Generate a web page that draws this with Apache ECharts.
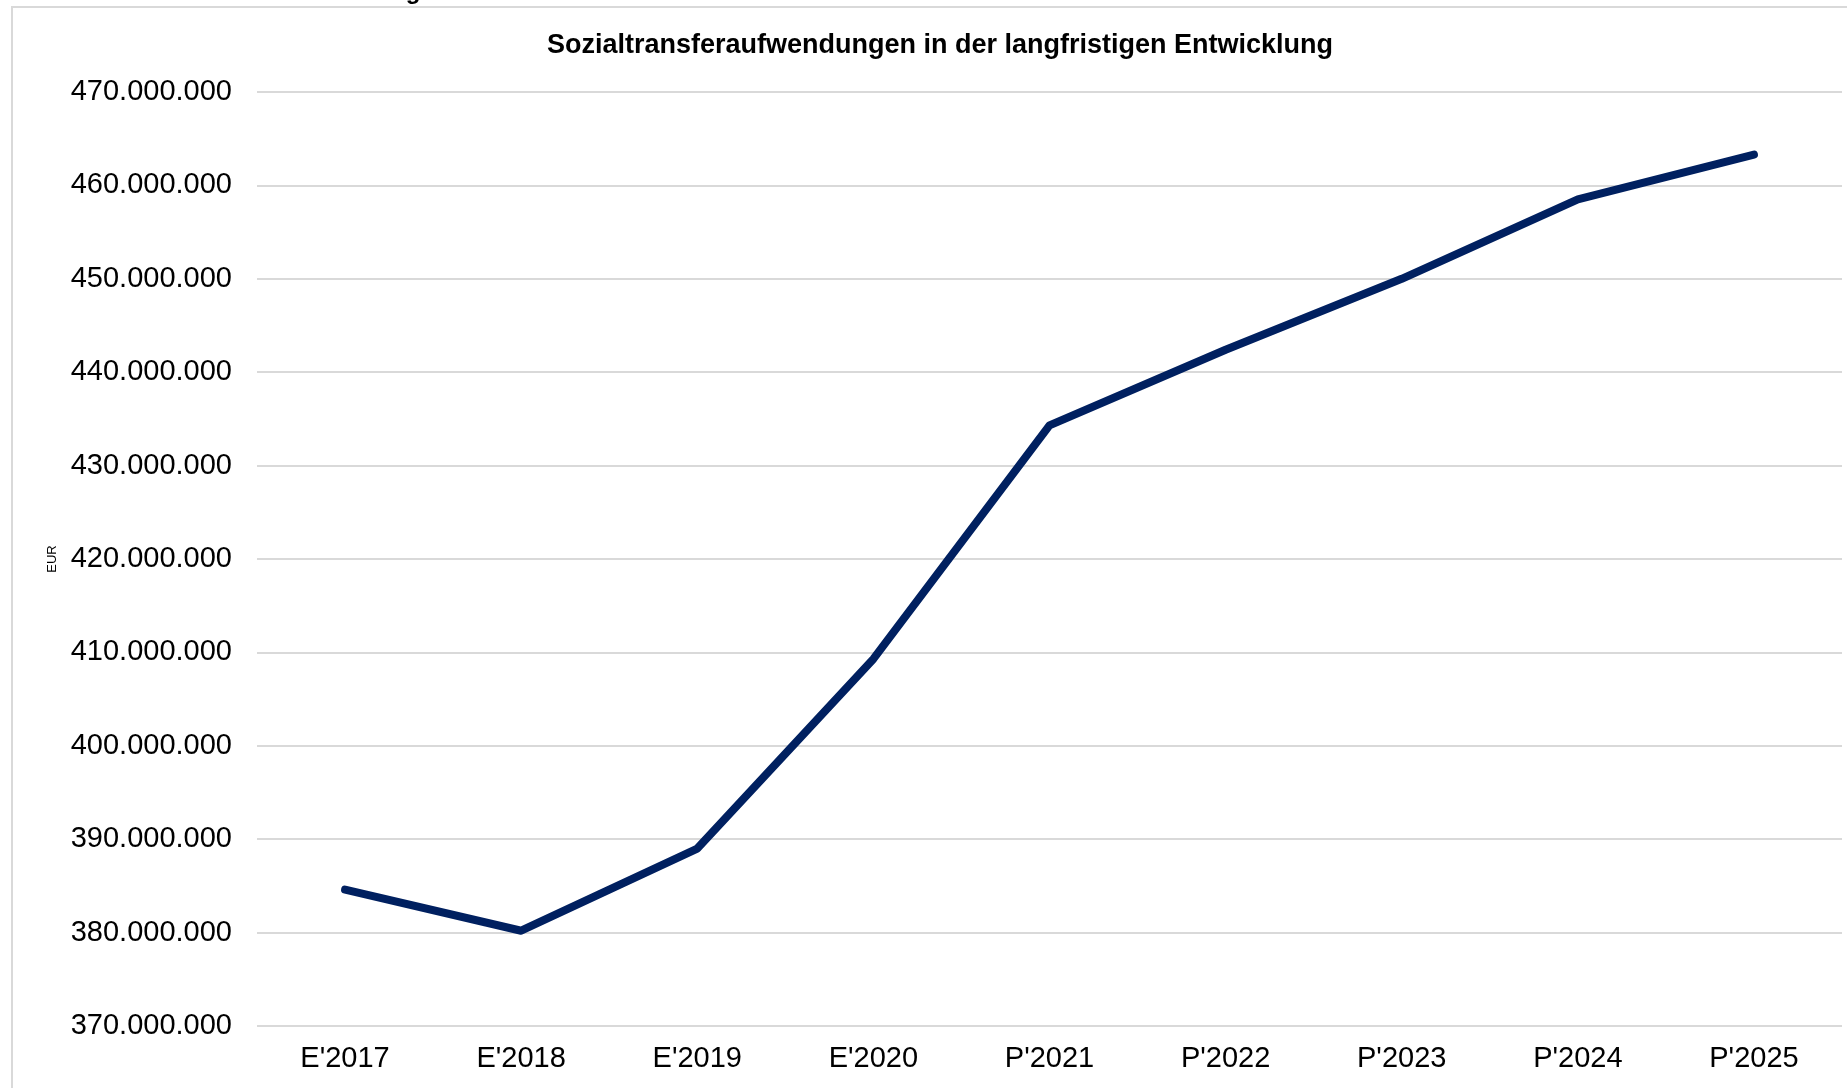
<!DOCTYPE html>
<html>
<head>
<meta charset="utf-8">
<script src="https://cdn.jsdelivr.net/npm/echarts@6/dist/echarts.min.js"></script>
<style>
  html, body { margin: 0; padding: 0; background: #fff; }
  #chart { width: 1847px; height: 1088px; }
</style>
</head>
<body>
<div id="chart"></div>
<script>
// Kategorien (E = Ergebnis, P = Planung)
var years = ["E'2017", "E'2018", "E'2019", "E'2020", "P'2021", "P'2022", "P'2023", "P'2024", "P'2025"];
// Sozialtransferaufwendungen in EUR
var transfers = [384600000, 380200000, 389000000, 409300000, 434300000, 442400000, 450000000, 458500000, 463300000];
var yMin = 370000000;
var yMax = 470000000;
var yStep = 10000000;

function fmtDE(v) {
    return String(Math.round(v)).replace(/\B(?=(\d{3})+(?!\d))/g, '.');
}

var mychart = echarts.init(document.getElementById('chart'));
var font = "'Liberation Sans', Arial, sans-serif";

option = {
    backgroundColor: '#fff',
    animation: false,
    textStyle: { fontFamily: font },
    graphic: [
        {
            type: 'rect',
            shape: { x: 12, y: 7, width: 1900, height: 1200 },
            style: { fill: 'none', stroke: '#d9d9d9', lineWidth: 2 },
            silent: true
        },
        {
            // abgeschnittene Überschrift oberhalb des Rahmens
            type: 'text',
            x: 413,
            y: 4,
            style: {
                text: 'g',
                font: 'bold 24px ' + font,
                fill: '#000',
                align: 'center',
                verticalAlign: 'bottom'
            }
        },
        {
            type: 'text',
            x: 940,
            y: 46,
            style: {
                text: 'Sozialtransferaufwendungen in der langfristigen Entwicklung',
                font: 'bold 27px ' + font,
                fill: '#000',
                align: 'center',
                verticalAlign: 'middle'
            }
        }
    ],
    grid: {
        left: 257,
        right: 5,
        top: 92,
        bottom: 62
    },
    xAxis: {
        type: 'category',
        data: years,
        boundaryGap: true,
        axisLine: { show: false },
        axisTick: { show: false },
        axisLabel: {
            color: '#000',
            fontSize: 29,
            margin: 18,
            fontFamily: font
        }
    },
    yAxis: {
        type: 'value',
        min: yMin,
        max: yMax,
        interval: yStep,
        name: 'EUR',
        nameLocation: 'middle',
        nameRotate: 90,
        nameGap: 198,
        nameTextStyle: { fontSize: 13, color: '#000', fontFamily: font },
        axisLine: { show: false },
        axisTick: { show: false },
        axisLabel: {
            color: '#000',
            fontSize: 29,
            margin: 25,
            fontFamily: font,
            formatter: fmtDE
        },
        splitLine: { lineStyle: { color: '#d9d9d9', width: 2 } }
    },
    series: [
        {
            name: 'Sozialtransferaufwendungen',
            type: 'line',
            data: transfers,
            showSymbol: false,
            lineStyle: {
                color: '#002060',
                width: 8,
                cap: 'round',
                join: 'round'
            }
        }
    ]
};

mychart.setOption(option);
</script>
</body>
</html>
